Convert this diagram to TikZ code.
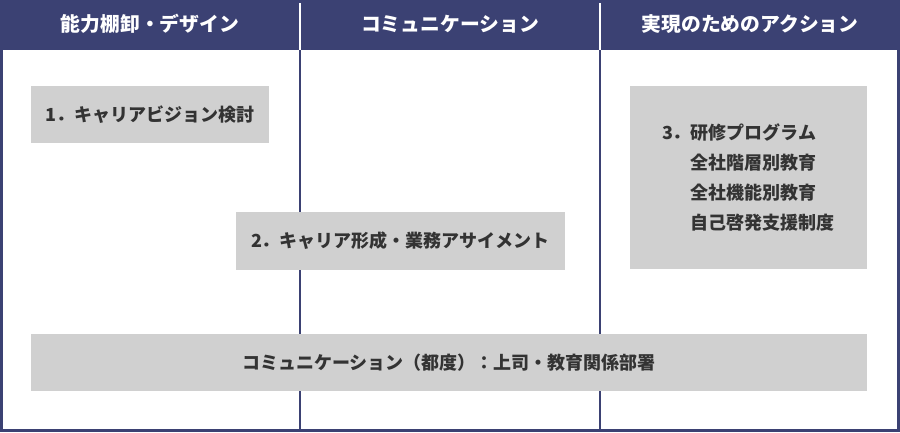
\documentclass[tikz,border=0pt]{standalone}
\usepackage{fontspec}
\setmainfont{Noto Sans CJK JP}
\definecolor{navy}{HTML}{3B4173}
\definecolor{boxgray}{HTML}{D0D0D0}
\definecolor{txt}{HTML}{333333}
\begin{document}
\begin{tikzpicture}[x=1pt,y=-1pt,
  head/.style={text=white,font=\fontsize{19.8}{22}\selectfont\bfseries},
  gbox/.style={fill=boxgray,draw=none,inner sep=0pt,text=txt,font=\fontsize{18}{30}\selectfont\bfseries},
  coll/.style={draw=navy,line width=2pt},
  hsep/.style={draw=white,line width=2pt}]
\useasboundingbox (0,0) rectangle (900,432);
\fill[white] (0,0) rectangle (900,432);
\fill[navy] (0,0) rectangle (900,50);
\coordinate (h1t) at (300,0); \coordinate (h1b) at (300,50);
\coordinate (h2t) at (600,0); \coordinate (h2b) at (600,50);
\coordinate (c1b) at (300,430); \coordinate (c2b) at (600,430);
\draw[hsep] (h1t) -- (h1b);
\draw[hsep] (h2t) -- (h2b);
\draw[coll] (h1b) -- (c1b);
\draw[coll] (h2b) -- (c2b);
\draw[navy,line width=3pt] (1.5,1.5) rectangle (898.5,430.5);
\node[head] (t1) at (150,24) {能力棚卸・デザイン};
\node[head] (t2) at (450,24) {コミュニケーション};
\node[head] (t3) at (750,24) {実現のためのアクション};
\node[gbox,minimum width=238pt,minimum height=57pt] (b1) at (150,114.5) {1．キャリアビジョン検討};
\node[gbox,minimum width=329pt,minimum height=58pt] (b2) at (400.5,241) {2．キャリア形成・業務アサイメント};
\node[gbox,minimum width=237pt,minimum height=183pt,align=left] (b3) at (748.5,177.5) {3．研修プログラム\\\phantom{3．}全社階層別教育\\\phantom{3．}全社機能別教育\\\phantom{3．}自己啓発支援制度};
\node[gbox,minimum width=836pt,minimum height=57pt] (b4) at (449,362.5) {コミュニケーション（都度）：上司・教育関係部署};
\end{tikzpicture}
\end{document}
